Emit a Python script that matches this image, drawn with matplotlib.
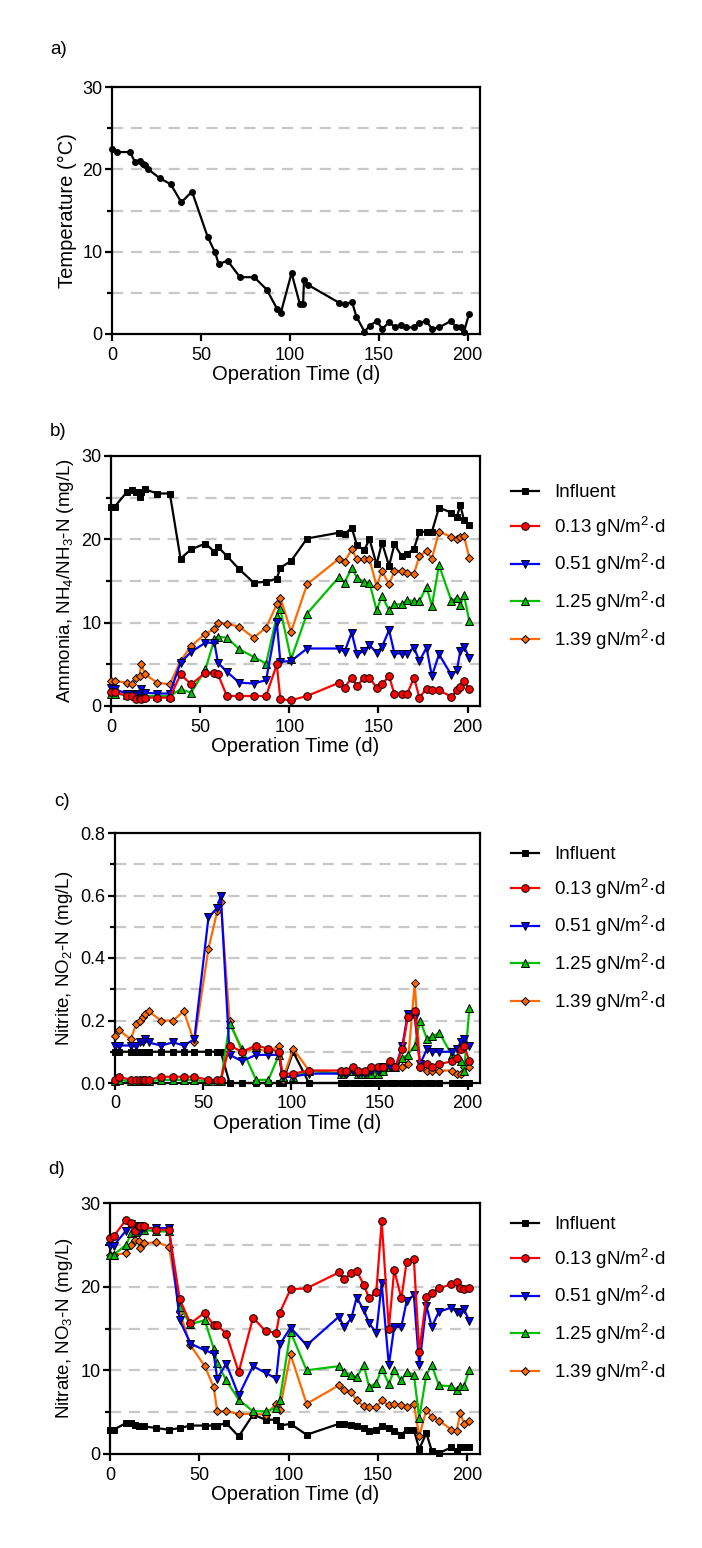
import matplotlib
matplotlib.use("Agg")
import matplotlib.pyplot as plt
from matplotlib.ticker import MultipleLocator, FormatStrFormatter

plt.rcParams['font.family'] = ['Liberation Sans', 'DejaVu Sans']
plt.rcParams['mathtext.fontset'] = 'custom'
plt.rcParams['mathtext.rm'] = 'Liberation Sans'
plt.rcParams['mathtext.it'] = 'Liberation Sans:italic'
plt.rcParams['mathtext.bf'] = 'Liberation Sans:bold'

# ---------------- data ----------------
# Panel a: temperature
temp_days = [0, 2.6, 10, 13, 15.8, 17.6, 18.5, 20.4, 27, 33, 39, 45, 53.8, 58, 60, 65, 72, 80,
             87, 93, 95, 101, 105.6, 107.5, 108, 110, 127.7, 131, 135, 137.5, 142, 145, 149,
             152, 155.7, 159, 162.7, 165.5, 169.6, 172.6, 176.8, 180, 184, 190.8, 193.6,
             196.4, 198, 200.8]
temp_vals = [22.5, 22.1, 22.1, 20.9, 21.0, 20.7, 20.5, 20.0, 18.9, 18.2, 16.0, 17.3, 11.8, 9.9,
             8.5, 8.9, 6.9, 6.9, 5.4, 3.0, 2.6, 7.4, 3.7, 3.7, 6.5, 6.0, 3.8, 3.6, 3.9, 2.1,
             0.3, 1.0, 1.6, 0.6, 1.4, 0.9, 1.1, 0.8, 0.8, 1.3, 1.6, 0.6, 0.8, 1.6, 0.8, 0.8,
             0.3, 2.4]

# Common sampling days for panels b-d
days = [0, 2, 9, 12, 14, 16, 17, 19, 26, 33, 39, 45, 53, 58, 60, 65, 72, 80, 87, 93, 95, 101,
        110, 128, 131, 135, 138, 142, 145, 149, 152, 156, 159, 163, 166, 170, 173, 177, 180,
        184, 191, 194, 196, 198, 201]

series_labels = ['Influent', '0.13 gN/m$^{2}$·d', '0.51 gN/m$^{2}$·d',
                 '1.25 gN/m$^{2}$·d', '1.39 gN/m$^{2}$·d']

# Panel b: ammonia
nh4_influent = [23.9, 23.9, 25.7, 25.9, 25.7, 25.1, 25.7, 26.0, 25.5, 25.5, 17.7, 18.8, 19.5,
                18.5, 19.1, 18.0, 16.4, 14.8, 14.9, 15.3, 16.6, 17.4, 20.1, 20.8, 20.6, 21.4,
                19.3, 18.7, 20.0, 17.0, 19.6, 16.8, 19.4, 18.0, 18.2, 18.9, 20.9, 20.9, 20.9,
                23.8, 23.2, 22.7, 24.1, 22.3, 21.7]
nh4_013 = [1.7, 1.7, 1.2, 1.2, 0.9, 1.0, 0.9, 1.0, 1.0, 1.0, 3.8, 2.6, 4.0, 4.0, 3.8, 1.2, 1.2,
           1.2, 1.2, 5.0, 0.8, 0.7, 1.2, 2.8, 2.2, 3.4, 2.4, 3.4, 3.4, 2.2, 2.6, 3.6, 1.4, 1.4,
           1.4, 3.4, 1.0, 2.1, 1.9, 1.9, 1.1, 1.9, 2.3, 3.0, 2.0]
nh4_051 = [2.2, 2.0, 1.5, 1.5, 1.3, 1.4, 2.0, 1.6, 1.5, 1.5, 5.2, 6.5, 7.6, 7.6, 5.2, 4.1, 2.8,
           2.7, 3.1, 10.1, 5.3, 5.4, 6.9, 6.9, 6.5, 8.8, 6.2, 6.6, 7.3, 6.4, 7.1, 9.1, 6.3, 6.3,
           6.3, 7.0, 5.4, 7.0, 3.6, 6.2, 3.7, 4.3, 6.6, 7.1, 5.8]
nh4_125 = [1.5, 1.5, 1.3, 1.3, 1.2, 1.2, 1.3, 1.2, 1.2, 1.2, 2.0, 1.6, 4.4, 8.0, 8.3, 8.2, 6.8,
           5.9, 5.1, 10.8, 11.6, 5.6, 11.1, 15.5, 14.8, 16.6, 15.4, 14.9, 14.8, 11.5, 13.2,
           11.5, 12.2, 12.2, 12.7, 12.6, 12.6, 14.3, 12.0, 16.9, 12.6, 13.0, 12.1, 13.3, 10.2]
nh4_139 = [3.0, 3.0, 2.8, 2.6, 3.4, 3.6, 5.1, 3.8, 2.8, 2.6, 5.4, 7.2, 8.7, 9.2, 10.0, 9.9, 9.5,
           8.2, 9.4, 12.2, 13.0, 8.9, 14.6, 17.7, 17.3, 18.8, 17.6, 17.6, 17.6, 14.4, 16.2,
           14.6, 16.2, 16.2, 16.0, 15.9, 18.0, 18.6, 17.7, 20.9, 20.3, 20.0, 20.3, 20.4, 17.8]

# Panel c: nitrite
no2_influent = [0.1] * 15 + [0, 0, 0, 0, 0, 0, 0.1, 0] + [0] * 22
no2_013 = [0.01, 0.02, 0.01, 0.01, 0.01, 0.01, 0.01, 0.01, 0.02, 0.02, 0.02, 0.02, 0.01, 0.01,
           0.01, 0.12, 0.10, 0.12, 0.11, 0.10, 0.03, 0.03, 0.04, 0.04, 0.04, 0.05, 0.04, 0.04,
           0.05, 0.05, 0.05, 0.07, 0.05, 0.11, 0.21, 0.23, 0.05, 0.06, 0.05, 0.06, 0.07, 0.08,
           0.11, 0.12, 0.07]
no2_051 = [0.12, 0.12, 0.12, 0.12, 0.13, 0.13, 0.14, 0.13, 0.12, 0.13, 0.12, 0.14, 0.53, 0.56,
           0.60, 0.09, 0.07, 0.09, 0.09, 0.09, 0.02, 0.02, 0.03, 0.03, 0.03, 0.04, 0.03, 0.03,
           0.04, 0.04, 0.05, 0.05, 0.05, 0.12, 0.22, 0.21, 0.06, 0.11, 0.10, 0.10, 0.10, 0.11,
           0.13, 0.14, 0.12]
no2_125 = [0.005, 0.01, 0.005, 0.005, 0.005, 0.005, 0.005, 0.005, 0.01, 0.01, 0.01, 0.01, 0.005,
           0.005, 0.005, 0.19, 0.11, 0.01, 0.01, 0.09, 0.02, 0.02, 0.04, 0.03, 0.04, 0.04, 0.03,
           0.03, 0.03, 0.03, 0.04, 0.05, 0.05, 0.08, 0.09, 0.12, 0.20, 0.14, 0.15, 0.16, 0.09,
           0.08, 0.07, 0.04, 0.24]
no2_139 = [0.15, 0.17, 0.14, 0.19, 0.20, 0.21, 0.22, 0.23, 0.20, 0.20, 0.23, 0.13, 0.43, 0.55,
           0.58, 0.20, 0.10, 0.11, 0.10, 0.12, 0.01, 0.11, 0.04, 0.03, 0.03, 0.04, 0.03, 0.03,
           0.04, 0.04, 0.04, 0.05, 0.05, 0.05, 0.06, 0.32, 0.05, 0.04, 0.04, 0.04, 0.04, 0.03,
           0.03, 0.05, 0.05]

# Panel d: nitrate
no3_influent = [2.9, 2.9, 3.7, 3.7, 3.5, 3.4, 3.4, 3.3, 3.1, 2.9, 3.1, 3.4, 3.4, 3.4, 3.4, 3.7,
                2.1, 4.7, 4.1, 4.1, 3.4, 3.6, 2.3, 3.6, 3.6, 3.5, 3.4, 3.1, 2.8, 2.9, 3.4, 3.1,
                2.8, 2.3, 2.9, 2.9, 0.6, 2.5, 0.4, 0.1, 0.8, 0.4, 0.8, 0.8, 0.8]
no3_013 = [25.8, 26.0, 28.0, 27.6, 26.7, 27.2, 27.2, 27.2, 26.8, 26.8, 18.5, 15.6, 16.9, 15.4,
           15.4, 14.4, 9.8, 16.3, 14.7, 14.5, 16.9, 19.7, 19.8, 21.7, 20.9, 21.6, 21.9, 20.2,
           18.6, 19.4, 27.8, 15.0, 22.0, 18.6, 23.0, 23.3, 12.2, 18.8, 19.3, 19.8, 20.3, 20.6,
           19.9, 19.7, 19.8]
no3_051 = [24.9, 24.9, 26.7, 27.5, 27.0, 27.2, 26.5, 27.0, 27.0, 27.0, 16.0, 13.2, 12.4, 12.0,
           9.0, 10.8, 7.0, 10.5, 9.7, 9.0, 13.1, 15.1, 13.0, 16.4, 15.2, 16.2, 18.7, 17.2,
           15.6, 14.5, 20.4, 10.6, 15.2, 15.2, 18.3, 19.0, 10.6, 17.7, 15.2, 17.0, 17.5, 17.0,
           16.9, 17.3, 15.9]
no3_125 = [23.8, 23.8, 25.0, 26.4, 26.5, 26.8, 26.8, 26.8, 26.6, 26.6, 17.6, 15.5, 16.0, 12.6,
           10.9, 8.8, 6.5, 5.1, 5.1, 5.5, 6.5, 14.6, 10.0, 10.5, 9.8, 9.5, 9.2, 10.6, 8.0, 8.5,
           10.2, 8.4, 10.0, 8.8, 9.8, 9.5, 4.3, 9.5, 10.6, 8.2, 8.1, 7.7, 8.1, 8.1, 10.0]
no3_139 = [23.8, 23.8, 24.0, 25.0, 25.6, 25.4, 24.6, 25.2, 25.3, 24.8, 17.0, 13.0, 10.5, 8.0,
           5.1, 5.1, 4.8, 4.8, 4.7, 6.0, 5.3, 11.9, 6.0, 8.2, 7.6, 7.4, 6.4, 5.7, 5.6, 5.6, 6.4,
           5.8, 6.0, 5.8, 5.6, 6.0, 2.1, 5.3, 4.4, 4.0, 2.9, 2.8, 4.9, 3.6, 3.9]

# ---------------- styling ----------------
colors = ['black', '#ff0000', '#0000ff', '#00c000', '#ff6a00']
markers = ['s', 'o', 'v', '^', 'D']
msizes = [4.5, 5.5, 6, 6, 4.3]
GRID_C = '#c8c8c8'
FS_TICK = 13
FS_LAB = 13.5
FS_XLAB = 14.5

W, H = 702, 1548
fig = plt.figure(figsize=(W / 100, H / 100), dpi=100)


def add_ax(left, top, right, bottom):
    return fig.add_axes([left / W, 1 - bottom / H, (right - left) / W, (bottom - top) / H])


def style(ax, ymax, major, minor, fmt=None):
    ax.set_xlim(0, 207)
    ax.set_ylim(0, ymax)
    ax.xaxis.set_major_locator(MultipleLocator(50))
    ax.yaxis.set_major_locator(MultipleLocator(major))
    ax.yaxis.set_minor_locator(MultipleLocator(minor))
    if fmt:
        ax.yaxis.set_major_formatter(FormatStrFormatter(fmt))
    for s in ax.spines.values():
        s.set_linewidth(1.6)
        s.set_color('black')
    ax.tick_params(which='major', direction='out', length=5, width=1.6, labelsize=FS_TICK,
                   pad=2)
    ax.tick_params(axis='x', which='major', pad=4)
    ax.tick_params(which='minor', direction='out', length=3.5, width=1.6)
    ax.tick_params(axis='x', which='minor', bottom=False)
    n = int(round(ymax / minor))
    for k in range(1, n):
        ax.axhline(k * minor, color=GRID_C, lw=1.6, ls=(0, (5, 3.5)), zorder=0)
    ax.set_xlabel('Operation Time (d)', fontsize=FS_XLAB, labelpad=1)


def draw(ax, ys):
    handles = []
    zorders = [3, 7, 6, 5, 4]
    for i, y in enumerate(ys):
        h, = ax.plot(days, y, color=colors[i], lw=1.6, marker=markers[i], ms=msizes[i],
                     mfc=colors[i], mec='black', mew=0.7, label=series_labels[i],
                     clip_on=False, zorder=zorders[i])
        handles.append(h)
    return handles


def legend(handles, top_px):
    fig.legend(handles=handles, loc='upper left',
               bbox_to_anchor=(511 / W, 1 - top_px / H), bbox_transform=fig.transFigure,
               frameon=False, fontsize=FS_LAB, handlelength=1.5, handletextpad=0.8,
               labelspacing=0.72, borderaxespad=0, borderpad=0)


# Panel a
axa = add_ax(112, 87, 480, 334)
style(axa, 30, 10, 5)
axa.plot(temp_days, temp_vals, color='black', lw=1.6, marker='o', ms=4, clip_on=False, zorder=3)
axa.set_ylabel('Temperature (°C)', fontsize=FS_XLAB, labelpad=4)
fig.text(50 / W, 1 - 50 / H, 'a)', fontsize=FS_LAB, va='center')

# Panel b
axb = add_ax(111, 456, 480, 706)
style(axb, 30, 10, 5)
hb = draw(axb, [nh4_influent, nh4_013, nh4_051, nh4_125, nh4_139])
axb.set_ylabel('Ammonia, NH$_{4}$/NH$_{3}$-N (mg/L)', fontsize=FS_LAB, labelpad=4)
fig.text(50 / W, 1 - 431 / H, 'b)', fontsize=FS_LAB, va='center')
legend(hb, 484)

# Panel c
axc = add_ax(115, 833, 480, 1083)
style(axc, 0.8, 0.2, 0.1, '%.1f')
hc = draw(axc, [no2_influent, no2_013, no2_051, no2_125, no2_139])
axc.set_ylabel('Nitrite, NO$_{2}$-N (mg/L)', fontsize=FS_LAB, labelpad=4)
fig.text(54 / W, 1 - 801 / H, 'c)', fontsize=FS_LAB, va='center')
legend(hc, 846)

# Panel d
axd = add_ax(110, 1203, 480, 1454)
style(axd, 30, 10, 5)
hd = draw(axd, [no3_influent, no3_013, no3_051, no3_125, no3_139])
axd.set_ylabel('Nitrate, NO$_{3}$-N (mg/L)', fontsize=FS_LAB, labelpad=4)
fig.text(48 / W, 1 - 1170 / H, 'd)', fontsize=FS_LAB, va='center')
legend(hd, 1216)

fig.savefig('out.png', dpi=100, facecolor='white')
